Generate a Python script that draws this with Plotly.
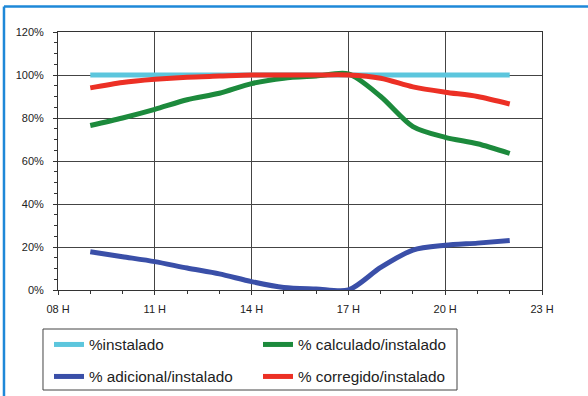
import plotly.graph_objects as go

hours = [9, 10, 11, 12, 13, 14, 15, 16, 17, 18, 19, 20, 21, 22]
instalado = [100] * 14
calculado = [76.5, 80, 84, 88.5, 91.5, 96, 98.5, 99.5, 100.5, 90, 76, 71, 68, 63.5]
adicional = [17.8, 15.5, 13.2, 10.2, 7.5, 3.9, 1.2, 0.5, 0, 10.5, 18.6, 20.8, 21.8, 23]
corregido = [94, 96.5, 98, 99, 99.5, 100, 100, 100, 100, 98.5, 94.5, 92, 90, 86.5]

xtick_vals = [8, 11, 14, 17, 20, 23]
xtick_text = ["08 H", "11 H", "14 H", "17 H", "20 H", "23 H"]
ytick_vals = [0, 20, 40, 60, 80, 100, 120]
ytick_text = ["0%", "20%", "40%", "60%", "80%", "100%", "120%"]

series = [
    ("%instalado", instalado, "#5CC6DD", "legend"),
    ("% calculado/instalado", calculado, "#1C8A3C", "legend"),
    ("% adicional/instalado", adicional, "#3A4FA8", "legend2"),
    ("% corregido/instalado", corregido, "#EC3025", "legend2"),
]

fig = go.Figure()
for name, vals, col, lg in series:
    fig.add_trace(go.Scatter(x=hours, y=vals, name=name, mode="lines", legend=lg,
                             line=dict(color=col, width=5, shape="spline", smoothing=0.8)))

grid = "#444444"
leg_common = dict(orientation="h", xanchor="left", yanchor="top",
                  xref="container", yref="container",
                  borderwidth=0, bgcolor="rgba(0,0,0,0)",
                  font=dict(size=15.3, color="#222"),
                  entrywidth=164, entrywidthmode="pixels", itemwidth=30)
fig.update_layout(
    width=588, height=396,
    margin=dict(l=58, r=46, t=32, b=106, autoexpand=False),
    paper_bgcolor="white", plot_bgcolor="white",
    font=dict(family="Liberation Sans, Arial, sans-serif", color="#222"),
    showlegend=True,
    legend=dict(x=0.0833, y=0.1717, **leg_common),
    legend2=dict(x=0.0833, y=0.0909, **leg_common),
    xaxis=dict(range=[8, 23], tickvals=xtick_vals, ticktext=xtick_text,
               showgrid=True, gridcolor=grid, gridwidth=1,
               showline=True, linecolor="#333", linewidth=1, mirror=True,
               ticks="outside", ticklen=4, tickcolor="#333",
               tickfont=dict(size=11), ticklabelstandoff=5, zeroline=False,
               minor=dict(dtick=1, ticks="outside", ticklen=3, tickcolor="#333", showgrid=False)),
    yaxis=dict(range=[0, 120], tickvals=ytick_vals, ticktext=ytick_text,
               showgrid=True, gridcolor=grid, gridwidth=1,
               showline=True, linecolor="#333", linewidth=1, mirror=True,
               ticks="outside", ticklen=4, tickcolor="#333",
               tickfont=dict(size=11), ticklabelstandoff=7, zeroline=False,
               minor=dict(dtick=5, ticks="outside", ticklen=3, tickcolor="#333", showgrid=False)),
)

# legend box
fig.add_shape(type="rect", xref="paper", yref="paper", x0=-0.031, x1=0.8244, y0=-0.1512, y1=-0.3876,
              line=dict(color="#444", width=1))

frame = "#1E88D8"
fig.add_shape(type="line", xref="paper", yref="paper", x0=-0.1116, x1=1.2, y0=1.099, y1=1.099,
              line=dict(color=frame, width=2.5))
fig.add_shape(type="line", xref="paper", yref="paper", x0=-0.1116, x1=-0.1116, y0=1.099, y1=-0.45,
              line=dict(color=frame, width=2.5))

fig.write_html("out.html")
